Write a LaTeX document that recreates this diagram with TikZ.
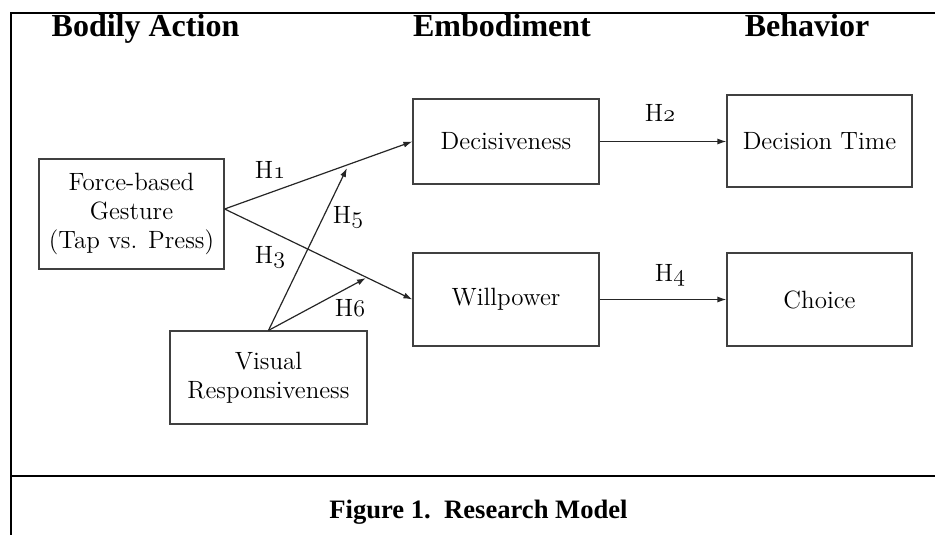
\documentclass[tikz,border=0pt]{standalone}
\usepackage{fontspec}
\usetikzlibrary{arrows.meta}
\newfontfamily\headfont{Liberation Serif}
\newcommand\bodyfont{\fontsize{12.5}{14.6}\selectfont}
\newcommand\hyp[1]{H{\usefont{OML}{lmm}{m}{it}#1}}

\begin{document}
\begin{tikzpicture}[x=0.5pt,y=-0.5pt,
  box/.style={draw=black!75,line width=0.6pt,align=center,inner sep=0pt,font=\bodyfont},
  hlab/.style={font=\bodyfont},
  arr/.style={-{Latex[length=4.5pt,width=3pt]},line width=0.6pt,black!85},
  head/.style={font=\headfont\bfseries\fontsize{16}{19}\selectfont,anchor=base}]
  \useasboundingbox (0,0) rectangle (935,535);
  \draw[line width=1.3pt] (935,13) -- (11,13) -- (11,535);
  \draw[line width=1.3pt] (11,476) -- (935,476);

  %% column headings
  \node[head] (hbody) at (145.5,37) {Bodily Action};
  \node[head] (hemb)  at (502,37)   {Embodiment};
  \node[head] (hbeh)  at (807,37)   {Behavior};

  %% constructs
  \node[box,minimum width=92.5pt,minimum height=55pt] (force) at (131.5,214)
       {Force-based\\Gesture\\(Tap vs. Press)};
  \node[box,minimum width=98.5pt,minimum height=46.5pt] (visual) at (268.5,377.5)
       {Visual\\Responsiveness};
  \node[box,minimum width=93pt,minimum height=42.5pt] (decis) at (506,141.5) {Decisiveness};
  \node[box,minimum width=93pt,minimum height=46.5pt] (will)  at (506,299.5) {Willpower};
  \node[box,minimum width=92.5pt,minimum height=46pt] (dtime) at (819.5,141) {Decision Time};
  \node[box,minimum width=92.5pt,minimum height=46.5pt] (choice) at (819.5,299.5) {Choice};

  %% paths
  \coordinate (m5) at (347,168);
  \coordinate (m6) at (366,278);
  \draw[arr] ([yshift=2.5pt]force.east) -- (decis.west);
  \draw[arr] ([yshift=2.5pt]force.east) -- (will.west);
  \draw[arr] (visual.north) -- (m5);
  \draw[arr] (visual.north) -- (m6);
  \draw[arr] (decis.east) -- (dtime.west |- decis.east);
  \draw[arr] (will.east) -- (choice.west |- will.east);

  %% hypothesis labels
  \node[hlab] (h1) at (270,170) {\hyp1};
  \node[hlab] (h2) at (660,113) {\hyp2};
  \node[hlab] (h3) at (270,257) {\hyp3};
  \node[hlab] (h4) at (670,275) {\hyp4};
  \node[hlab] (h5) at (348,217) {\hyp5};
  \node[hlab] (h6) at (350,308) {\hyp6};

  \node[font=\headfont\bfseries\fontsize{13.3}{16}\selectfont,anchor=base] (cap)
       at (478.5,518) {Figure 1.\ \ Research Model};
\end{tikzpicture}
\end{document}
